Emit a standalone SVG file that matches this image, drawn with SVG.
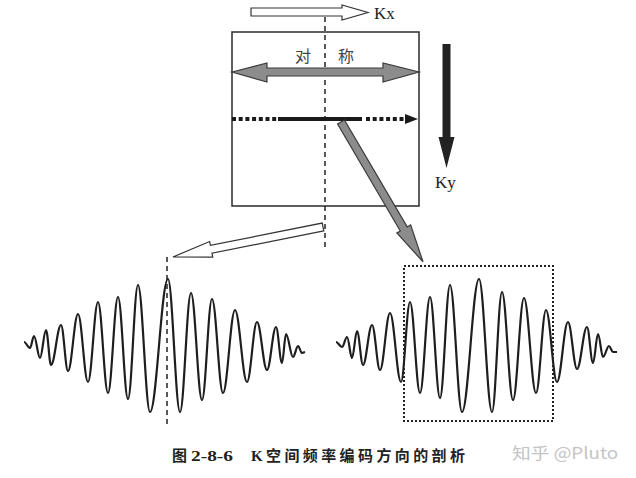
<svg xmlns="http://www.w3.org/2000/svg" width="636" height="478" viewBox="0 0 636 478">
<style>
.serif{font-family:"Liberation Serif","Noto Sans CJK SC",serif;fill:#222}
.cjk{font-family:"Noto Sans CJK SC",sans-serif}
.hollow{fill:#fff;stroke:#333;stroke-width:1.2}
.grayarrow{fill:#8c8c8c;stroke:#3a3a3a;stroke-width:1.2}
.dash{stroke:#222;stroke-width:1.5;stroke-dasharray:5 4;fill:none}
.wave{fill:none;stroke:#1e1e1e;stroke-width:2.2;stroke-linejoin:round}
</style>
<rect width="636" height="478" fill="#fff"/>

<g id="kspace-box">
  <rect x="232" y="32" width="187" height="174" fill="none" stroke="#2a2a2a" stroke-width="1.5"/>
  <text class="cjk" x="295" y="62" font-size="16" fill="#444">对</text>
  <text class="cjk" x="338" y="62" font-size="16" fill="#444">称</text>
</g>

<g id="connectors">
  <line class="dash" x1="325" y1="17" x2="325" y2="250"/>
  <line class="dash" x1="167" y1="257" x2="167" y2="427"/>
  <!-- Kx -->
  <polygon class="hollow" points="251,8 342,8 342,5 368,12.5 342,20 342,16 251,16"/>
  <!-- symmetric double arrow -->
  <polygon class="grayarrow" points="232,72 267,63 267,68 383,68 383,63 419,72 383,82 383,76 267,76 267,82"/>
  <!-- frequency encoding line -->
  <line x1="232" y1="119" x2="277" y2="119" stroke="#1a1a1a" stroke-width="4" stroke-dasharray="4 2.7"/>
  <line x1="278" y1="119" x2="362" y2="119" stroke="#1a1a1a" stroke-width="4"/>
  <line x1="366" y1="119" x2="405" y2="119" stroke="#1a1a1a" stroke-width="4" stroke-dasharray="4 2.7"/>
  <polygon points="405,114 418,119 405,124" fill="#1a1a1a"/>
  <!-- Ky -->
  <polygon points="442.5,44 450.5,44 450.5,137 454.5,137 446.5,168 438.5,137 442.5,137" fill="#222"/>
  <!-- gray diagonal arrow -->
  <g transform="translate(341,122) rotate(59.6)">
    <polygon class="grayarrow" points="0,-4 124,-4 124,-8 162,0 124,8 124,4 0,4"/>
  </g>
  <!-- hollow left arrow -->
  <g transform="translate(323,227) rotate(168.7)">
    <polygon class="hollow" points="0,-4 114,-4 114,-8 153,0 114,8 114,4 0,4"/>
  </g>
</g>

<g id="labels">
  <text class="serif" x="374" y="19" font-size="17">Kx</text>
  <text class="serif" x="435" y="188" font-size="17">Ky</text>
</g>

<g id="wave-left">
  <path class="wave" d="M24,342 C26.2,342 27.8,348 30,348 C31.5,348 32.5,336 34,336 C36.2,336 37.8,358 40,358 C42.2,358 43.8,330 46,330 C47.9,330 49.2,365 51,365 C54.7,365 57.3,325 61,325 C63.6,325 65.4,371 68,371 C71.7,371 74.3,314 78,314 C81.7,314 84.3,382 88,382 C91.7,382 94.3,302 98,302 C101.7,302 104.3,393 108,393 C111.7,393 114.3,297 118,297 C121.7,297 124.3,399 128,399 C131.7,399 134.3,285 138,285 C142.4,285 145.6,412 150,412 C156.7,412 161.3,279 168,279 C172.4,279 175.6,412 180,412 C184.1,412 186.9,293 191,293 C195.1,293 197.9,400 202,400 C205.7,400 208.3,299 212,299 C216.1,299 218.9,393 223,393 C227.4,393 230.6,310 235,310 C239.4,310 242.6,382 247,382 C250.7,382 253.3,322 257,322 C260.7,322 263.3,370 267,370 C270.3,370 272.7,327 276,327 C278.2,327 279.8,363 282,363 C283.5,363 284.5,334 286,334 C288.6,334 290.4,357 293,357 C294.9,357 296.2,346 298,346 C299.5,346 300.5,353 302,353 L305,352"/>
</g>

<g id="wave-right">
  <path class="wave" d="M336,342 C338.2,342 339.8,347 342,347 C343.9,347 345.2,337 347,337 C348.9,337 350.2,358 352,358 C353.9,358 355.2,331 357,331 C359.2,331 360.8,365 363,365 C366.3,365 368.7,325 372,325 C375,325 377,370 380,370 C383.7,370 386.3,313 390,313 C394.1,313 396.9,382 401,382 C404.3,382 406.7,302 410,302 C413.7,302 416.3,393 420,393 C423.7,393 426.3,297 430,297 C433.7,297 436.3,398 440,398 C443.7,398 446.3,285 450,285 C454.4,285 457.6,412 462,412 C468.3,412 472.7,279 479,279 C483.8,279 487.2,412 492,412 C495.7,412 498.3,292 502,292 C506.1,292 508.9,400 513,400 C517.1,400 519.9,298 524,298 C528.4,298 531.6,393 536,393 C539.7,393 542.3,310 546,310 C550.1,310 552.9,382 557,382 C561.1,382 563.9,322 568,322 C571.3,322 573.7,369 577,369 C580.7,369 583.3,327 587,327 C589.2,327 590.8,363 593,363 C594.9,363 596.2,334 598,334 C599.9,334 601.2,357 603,357 C605.2,357 606.8,346 609,346 C610.5,346 611.5,352 613,352 L617,352"/>
  <rect x="404" y="266" width="149" height="155" fill="none" stroke="#222" stroke-width="2" stroke-dasharray="2 2"/>
</g>

<g id="caption">
  <text class="serif" x="172" y="461" font-size="15" font-weight="bold">图</text>
  <text class="serif" x="191" y="461" font-size="15" font-weight="bold" textLength="42" lengthAdjust="spacingAndGlyphs">2-8-6</text>
  <text class="serif" x="251" y="461" font-size="15" font-weight="bold">K</text>
  <text class="serif" x="266" y="461" font-size="15" font-weight="bold" textLength="199" lengthAdjust="spacing">空间频率编码方向的剖析</text>
</g>

<g id="watermark">
  <text x="512" y="459" font-size="16" fill="#c4c4c4" font-family="'Noto Sans CJK SC','Noto Sans',sans-serif" textLength="106" lengthAdjust="spacingAndGlyphs">知乎 @Pluto</text>
</g>
</svg>
